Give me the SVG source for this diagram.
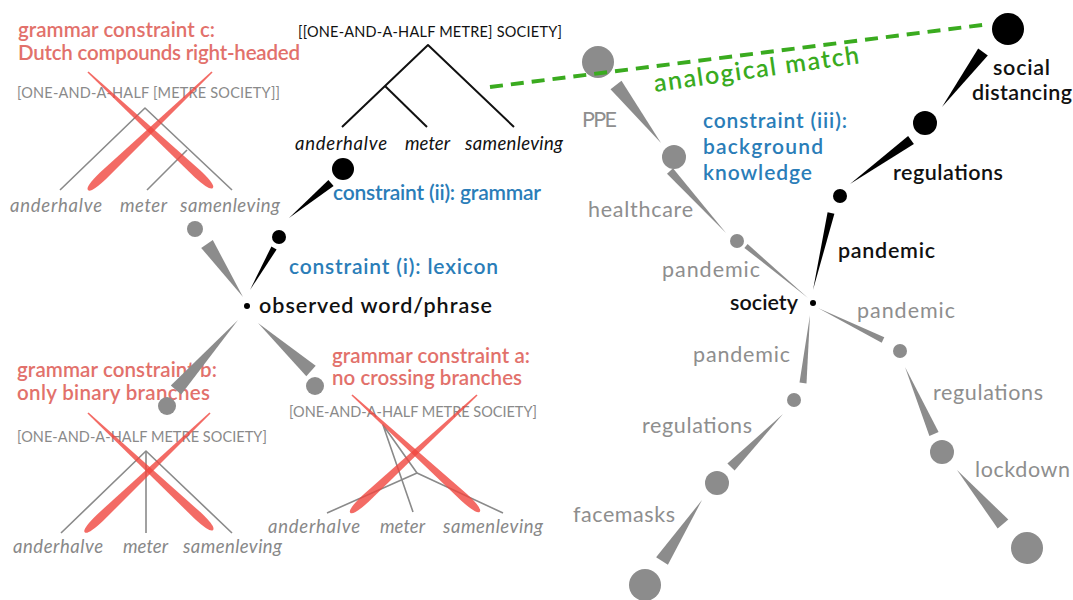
<svg xmlns="http://www.w3.org/2000/svg" width="1073" height="600" viewBox="0 0 1073 600">
<style>
text{font-family:Lato,"Open Sans","Liberation Sans",sans-serif}
.red{fill:#e2716b;font-size:20.5px;font-weight:600}
.blue{fill:#2a7db8;font-size:21px;font-weight:600}
.blk{fill:#111;font-size:21.5px;font-weight:600}
.gry{fill:#8e8e8e;font-size:21.5px}
.sc{font-size:14.5px}
.sc.g{fill:#8a8a8a}
.sc.k{fill:#111}
.it{font-style:italic;font-size:18.5px}
.it.g{fill:#888}
.it.k{fill:#111}
.tree{fill:none;stroke-width:1.6;stroke-linejoin:round}
.tg{stroke:#8a8a8a}
.tk{stroke:#111;stroke-width:2}
.x{fill:#f0463f;opacity:0.8}
.wk{fill:#000}
.wg{fill:#8c8c8c}
</style>
<defs>
  <path id="xs" d="M0,-0.8 L152,-4.4 Q173,-4.2 173,0 Q173,4.2 152,4.4 L0,0.8 Z"/>
</defs>

<g id="tree-top">
  <text class="sc k" x="298" y="37" textLength="264">[[ONE-AND-A-HALF METRE] SOCIETY]</text>
  <polyline class="tree tk" points="342,127 428,45 514,127"/>
  <polyline class="tree tk" points="385,86 427,127"/>
  <text class="it k" x="295" y="150" textLength="92">anderhalve</text>
  <text class="it k" x="405" y="150" textLength="45">meter</text>
  <text class="it k" x="465" y="150" textLength="98">samenleving</text>
</g>

<g id="constraint-c">
  <text class="red" x="18" y="37" textLength="197">grammar constraint c:</text>
  <text class="red" x="18" y="60" textLength="282">Dutch compounds right-headed</text>
  <text class="sc g" x="17" y="98" textLength="263">[ONE-AND-A-HALF [METRE SOCIETY]]</text>
  <polyline class="tree tg" points="60,190 145,108 232,190"/>
  <polyline class="tree tg" points="187,150 147,190"/>
  <use href="#xs" class="x" transform="translate(88,72) rotate(42.9) scale(0.985,1)"/>
  <use href="#xs" class="x" transform="translate(212,72) rotate(136.4) scale(0.99,1)"/>
  <text class="it g" x="10" y="212" textLength="92">anderhalve</text>
  <text class="it g" x="120" y="212" textLength="47">meter</text>
  <text class="it g" x="180" y="212" textLength="100">samenleving</text>
</g>

<g id="constraint-b">
  <text class="red" x="17" y="377" textLength="200">grammar constraint b:</text>
  <text class="red" x="17" y="400" textLength="193">only binary branches</text>
  <text class="sc g" x="17" y="442" textLength="250">[ONE-AND-A-HALF METRE SOCIETY]</text>
  <polyline class="tree tg" points="61,533 146,451 232,533"/>
  <line class="tree tg" x1="146" y1="451" x2="146" y2="533"/>
  <use href="#xs" class="x" transform="translate(88,413) rotate(43.1) scale(0.99,1)"/>
  <use href="#xs" class="x" transform="translate(210,413) rotate(136.4)"/>
  <text class="it g" x="13" y="553" textLength="90">anderhalve</text>
  <text class="it g" x="123" y="553" textLength="45">meter</text>
  <text class="it g" x="183" y="553" textLength="99">samenleving</text>
</g>

<g id="constraint-a">
  <text class="red" x="332" y="363" textLength="198">grammar constraint a:</text>
  <text class="red" x="332" y="385" textLength="190">no crossing branches</text>
  <text class="sc g" x="289" y="417" textLength="248">[ONE-AND-A-HALF METRE SOCIETY]</text>
  <polyline class="tree tg" points="413,512 383,425 417,473"/>
  <polyline class="tree tg" points="327,513 417,473 503,513"/>
  <use href="#xs" class="x" transform="translate(352,395) rotate(42.4)"/>
  <use href="#xs" class="x" transform="translate(477,395) rotate(137.1)"/>
  <text class="it g" x="268" y="533" textLength="92">anderhalve</text>
  <text class="it g" x="380" y="533" textLength="45">meter</text>
  <text class="it g" x="443" y="533" textLength="100">samenleving</text>
</g>

<g id="observed">
  <circle cx="247" cy="306" r="3" fill="#000"/>
  <text class="blk" x="259" y="313" textLength="233">observed word/phrase</text>
</g>
<g id="lexicon">
  <circle cx="279" cy="237" r="7" fill="#000"/>
  <text class="blue" x="289" y="274" textLength="209">constraint (i): lexicon</text>
</g>
<g id="grammar">
  <circle cx="343" cy="169" r="11" fill="#000"/>
  <text class="blue" x="333" y="200" textLength="208">constraint (ii): grammar</text>
</g>
<g id="c-node"><circle cx="195" cy="229" r="8" fill="#8c8c8c"/></g>
<g id="b-node"><circle cx="167" cy="406" r="9" fill="#8c8c8c"/></g>
<g id="a-node"><circle cx="315" cy="386" r="9" fill="#8c8c8c"/></g>

<g id="society">
  <circle cx="813" cy="303" r="3" fill="#000"/>
  <text class="blk" x="730" y="310" textLength="68">society</text>
</g>
<g id="pandemic-k">
  <circle cx="840" cy="196" r="7" fill="#000"/>
  <text class="blk" x="838" y="258" textLength="97">pandemic</text>
</g>
<g id="regulations-k">
  <circle cx="925" cy="123" r="12" fill="#000"/>
  <text class="blk" x="893" y="180" textLength="110">regulations</text>
</g>
<g id="social-distancing">
  <circle cx="1008" cy="29" r="16" fill="#000"/>
  <text class="blk" x="993" y="75" textLength="57">social</text>
  <text class="blk" x="972" y="100" textLength="100">distancing</text>
</g>
<g id="constraint-iii">
  <text class="blue" x="703" y="128" textLength="144">constraint (iii):</text>
  <text class="blue" x="703" y="154" textLength="120">background</text>
  <text class="blue" x="703" y="180" textLength="109">knowledge</text>
</g>
<g id="pandemic-g1">
  <circle cx="737" cy="241" r="7" fill="#8c8c8c"/>
  <text class="gry" x="662" y="277" textLength="98">pandemic</text>
</g>
<g id="healthcare">
  <circle cx="674" cy="157" r="12" fill="#8c8c8c"/>
  <text class="gry" x="588" y="217" textLength="105">healthcare</text>
</g>
<g id="ppe">
  <circle cx="598" cy="62" r="16" fill="#8c8c8c"/>
  <text class="gry" x="582" y="127" textLength="35">PPE</text>
</g>
<g id="pandemic-g2">
  <circle cx="900" cy="351" r="7" fill="#8c8c8c"/>
  <text class="gry" x="857" y="318" textLength="98">pandemic</text>
</g>
<g id="regulations-g2">
  <circle cx="942" cy="452" r="12" fill="#8c8c8c"/>
  <text class="gry" x="933" y="400" textLength="110">regulations</text>
</g>
<g id="lockdown">
  <circle cx="1027" cy="548" r="16" fill="#8c8c8c"/>
  <text class="gry" x="975" y="477" textLength="95">lockdown</text>
</g>
<g id="pandemic-g3">
  <circle cx="794" cy="400" r="7" fill="#8c8c8c"/>
  <text class="gry" x="693" y="362" textLength="97">pandemic</text>
</g>
<g id="regulations-g3">
  <circle cx="717" cy="483" r="12" fill="#8c8c8c"/>
  <text class="gry" x="642" y="433" textLength="110">regulations</text>
</g>
<g id="facemasks">
  <circle cx="645" cy="585" r="16" fill="#8c8c8c"/>
  <text class="gry" x="573" y="522" textLength="102">facemasks</text>
</g>

<g id="connectors">
  <polygon class="wk" points="250,290 276.6,249.5 271.4,246.5"/>
  <polygon class="wk" points="289,218 333.6,186.1 328.4,179.9"/>
  <polygon class="wg" points="243,297 212.8,240.1 201.2,247.9"/>
  <polygon class="wg" points="238,320 181.2,394.6 170.8,385.4"/>
  <polygon class="wg" points="258,323 315.7,365.8 306.3,376.2"/>
  <polygon class="wk" points="942,107 987.8,55.6 978.2,48.4"/>
  <polygon class="wk" points="850,184 913.9,144.1 908.1,135.9"/>
  <polygon class="wk" points="813,290 834.4,213.8 827.6,212.2"/>
  <polygon class="wg" points="661,143 621.5,80.7 610.5,89.3"/>
  <polygon class="wg" points="726,233 673,168.3 667,173.7"/>
  <polygon class="wg" points="808,298 747.6,244.1 744.4,247.9"/>
  <polygon class="wg" points="818,308 884.3,337.3 881.7,342.7"/>
  <polygon class="wg" points="905,367 938.6,432 929.4,436"/>
  <polygon class="wg" points="957,470 1008.3,519.5 997.7,528.5"/>
  <polygon class="wg" points="810,315 806.5,383.4 799.5,382.6"/>
  <polygon class="wg" points="783,414 734.6,470.5 727.4,463.5"/>
  <polygon class="wg" points="702,500 667.9,564.8 656.1,557.2"/>
  <line x1="490" y1="87" x2="990" y2="24" stroke="#3aab1f" stroke-width="4" stroke-dasharray="13,8"/>
</g>

<g id="label-analogical">
  <text x="655" y="92" transform="rotate(-8 655 92)" fill="#3aab1f" style="font-size:25px;font-weight:600" textLength="207">analogical match</text>
</g>
</svg>
